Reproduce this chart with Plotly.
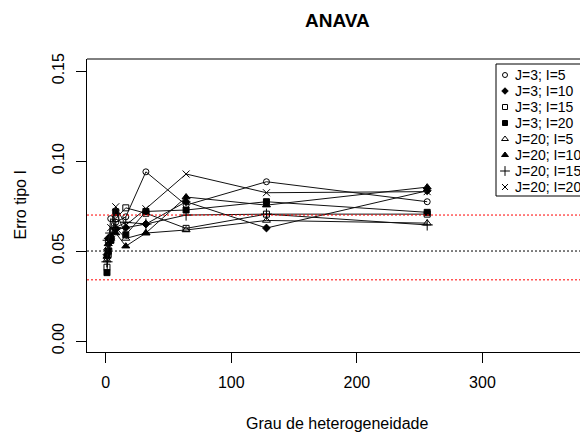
import plotly.graph_objects as go

# ---------------- data ----------------
grau = [1, 2, 4, 8, 16, 32, 64, 128, 256]
series_names = ["J=3; I=5", "J=3; I=10", "J=3; I=15", "J=3; I=20",
                "J=20; I=5", "J=20; I=10", "J=20; I=15", "J=20; I=20"]
j3_i5 = [0.046, 0.055, 0.068, 0.066, 0.069, 0.094, 0.0755, 0.0885, 0.0774]
j3_i10 = [0.048, 0.057, 0.058, 0.062, 0.063, 0.065, 0.0774, 0.0628, 0.0835]
j3_i15 = [0.041, 0.048, 0.056, 0.068, 0.074, 0.071, 0.0626, 0.0705, 0.0705]
j3_i20 = [0.038, 0.050, 0.056, 0.0718, 0.059, 0.072, 0.0728, 0.0774, 0.0715]
j20_i5 = [0.045, 0.052, 0.058, 0.063, 0.057, 0.060, 0.0617, 0.067, 0.0655]
j20_i10 = [0.047, 0.054, 0.057, 0.060, 0.0527, 0.060, 0.080, 0.0755, 0.0855]
j20_i15 = [0.044, 0.056, 0.060, 0.063, 0.066, 0.065, 0.070, 0.0705, 0.0645]
j20_i20 = [0.049, 0.055, 0.063, 0.0746, 0.0644, 0.0735, 0.0928, 0.0824, 0.083]
all_series = [j3_i5, j3_i10, j3_i15, j3_i20, j20_i5, j20_i10, j20_i15, j20_i20]
ref_black = 0.05
ref_red = [0.07, 0.034]
y_ticks = [0.00, 0.05, 0.10, 0.15]
x_ticks = [0, 100, 200, 300]

# ---------------- styles ----------------
symbols = ["circle-open", "diamond", "square-open", "square",
           "triangle-up-open", "triangle-up", "cross-thin-open", "x-thin-open"]
sizes = [6, 6, 6, 6, 7, 7, 8, 7]
FONT = "Liberation Sans, Arial, sans-serif"

fig = go.Figure()

# reference lines
fig.add_hline(y=ref_black, line=dict(color="black", width=1, dash="2px,2px"))
for r in ref_red:
    fig.add_hline(y=r, line=dict(color="red", width=1, dash="2px,2px"))

for name, ys, sym, sz in zip(series_names, all_series, symbols, sizes):
    fig.add_trace(go.Scatter(
        x=grau, y=ys, mode="lines+markers", name=name,
        line=dict(color="#111111", width=1),
        marker=dict(symbol=sym, size=sz, color="black",
                    line=dict(color="black", width=1)),
        showlegend=False, cliponaxis=True))

# ---------------- manual legend on pixel overlay axes ----------------
L, T, B = 87, 59, 82
W, H = 580, 434
leg_x_sym = 505
leg_x_txt = 513
leg_y0 = 75
leg_dy = 16
for i, (name, sym, sz) in enumerate(zip(series_names, symbols, sizes)):
    fig.add_trace(go.Scatter(
        x=[leg_x_sym], y=[leg_y0 + i * leg_dy], xaxis="x2", yaxis="y2",
        mode="markers", showlegend=False, hoverinfo="skip",
        marker=dict(symbol=sym, size=sz - 1, color="black",
                    line=dict(color="black", width=1))))
    fig.add_annotation(x=leg_x_txt, y=leg_y0 + i * leg_dy, xref="x2", yref="y2",
                       text=name, showarrow=False, xanchor="left", yanchor="middle",
                       font=dict(family=FONT, size=14, color="black"))
fig.add_shape(type="rect", xref="x2", yref="y2", x0=496, x1=800, y0=64, y1=196,
              line=dict(color="black", width=1), fillcolor="rgba(0,0,0,0)", layer="above")

# top frame line
fig.add_shape(type="line", xref="paper", yref="paper", x0=0, x1=1, y0=1, y1=1,
              line=dict(color="black", width=1))

# titles
plot_w = W - L
fig.add_annotation(text="<b>ANAVA</b>", xref="paper", yref="paper",
                   x=(337 - L) / plot_w, y=1, yshift=T - 20, showarrow=False,
                   xanchor="center", yanchor="middle",
                   font=dict(family=FONT, size=19, color="black"))
fig.add_annotation(text="Grau de heterogeneidade", xref="paper", yref="paper",
                   x=(337 - L) / plot_w, y=0, yshift=-(423 - (H - B)), showarrow=False,
                   xanchor="center", yanchor="middle",
                   font=dict(family=FONT, size=16, color="black"))
fig.add_annotation(text="Erro tipo I", xref="paper", yref="paper",
                   x=0, xshift=-(L - 20), y=0.5, showarrow=False, textangle=-90,
                   xanchor="center", yanchor="middle",
                   font=dict(family=FONT, size=16, color="black"))

fig.update_layout(
    width=W, height=H,
    margin=dict(l=L, r=0, t=T, b=B, pad=0),
    paper_bgcolor="white", plot_bgcolor="white",
    showlegend=False,
    font=dict(family=FONT, size=16, color="black"),
    xaxis=dict(range=[-14.9, (580 - 106) / 1.255], tickvals=x_ticks,
               showgrid=False, zeroline=False, showline=True, linecolor="black",
               linewidth=1, ticks="outside", ticklen=10, tickcolor="black",
               tickfont=dict(family=FONT, size=16, color="black"),
               ticklabelstandoff=6),
    yaxis=dict(range=[-0.0061, 0.1567], tickvals=y_ticks, tickformat=".2f",
               tickangle=-90,
               showgrid=False, zeroline=False, showline=True, linecolor="black",
               linewidth=1, ticks="outside", ticklen=10, tickcolor="black",
               tickfont=dict(family=FONT, size=16, color="black"),
               ticklabelstandoff=6),
    xaxis2=dict(range=[L, W], overlaying="x", visible=False, fixedrange=True),
    yaxis2=dict(range=[H - B, T], overlaying="y", visible=False, fixedrange=True),
)

fig.write_html("out.html")
